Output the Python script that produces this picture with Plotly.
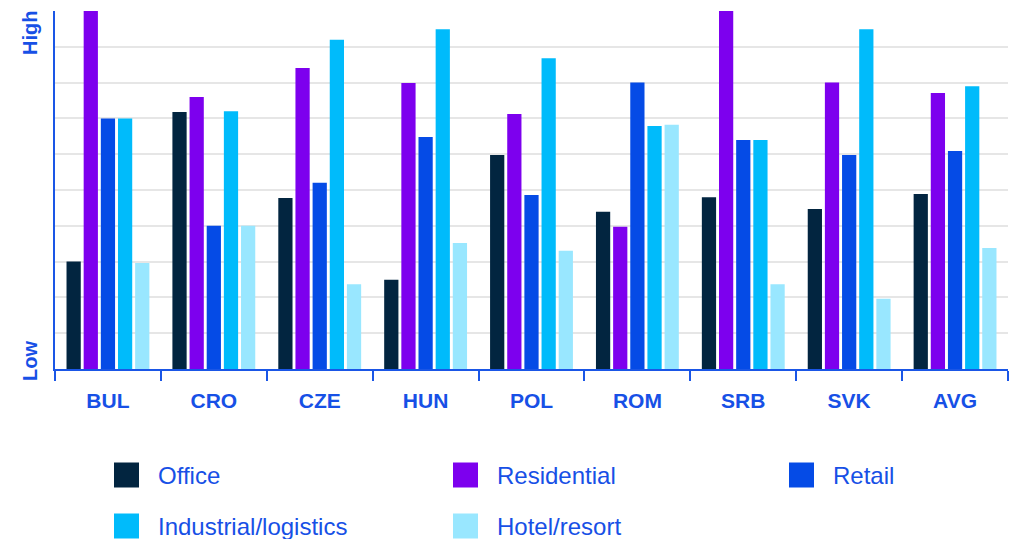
import plotly.graph_objects as go

# Market sentiment by country and property segment (Low -> High scale)
countries = ["BUL", "CRO", "CZE", "HUN", "POL", "ROM", "SRB", "SVK", "AVG"]
segments = ["Office", "Residential", "Retail", "Industrial/logistics", "Hotel/resort"]

office = [3.0, 7.18, 4.78, 2.49, 5.98, 4.39, 4.8, 4.47, 4.89]
residential = [10.0, 7.6, 8.41, 7.99, 7.12, 3.97, 10.0, 8.0, 7.71]
retail = [7.0, 4.0, 5.2, 6.48, 4.86, 8.0, 6.4, 5.98, 6.09]
industrial = [7.0, 7.2, 9.2, 9.49, 8.68, 6.79, 6.4, 9.49, 7.9]
hotel = [2.96, 4.0, 2.37, 3.52, 3.3, 6.82, 2.37, 1.96, 3.38]

series = [office, residential, retail, industrial, hotel]
colors = ["#022540", "#7d00ee", "#054be6", "#00bbfb", "#99e7ff"]

TEXT_BLUE = "#1750e6"
FONT = "Liberation Sans, Arial, sans-serif"

W, H = 1016, 539
ML, MR, MT, MB = 55, 8, 11, 170
PW, PH = W - ML - MR, H - MT - MB


def paper(x, y):
    """Pixel position (from top-left) to paper coordinates."""
    return (x - ML) / PW, (H - MB - y) / PH


fig = go.Figure()
for name, vals, col in zip(segments, series, colors):
    fig.add_trace(go.Bar(x=countries, y=vals, name=name, marker_color=col,
                         marker_line_width=0, showlegend=False))

# Legend drawn as swatches + labels in a 3-column grid
legend_cols = [(114, 158), (453, 497), (789, 833)]
legend_rows = [475, 526]
shapes = []
annotations = []
for i, (name, col) in enumerate(zip(segments, colors)):
    sx, tx = legend_cols[i % 3]
    cy = legend_rows[i // 3]
    x0, y0 = paper(sx, cy - 12.5)
    x1, y1 = paper(sx + 25, cy + 12.5)
    shapes.append(dict(type="rect", xref="paper", yref="paper", x0=x0, x1=x1,
                       y0=y1, y1=y0, fillcolor=col, line_width=0))
    ax, ay = paper(tx - 2, cy)
    annotations.append(dict(text=name, xref="paper", yref="paper", x=ax, y=ay,
                            xanchor="left", yanchor="middle", showarrow=False,
                            font=dict(family=FONT, size=24, color=TEXT_BLUE)))

# Axis end labels
for label, py in [("High", 33), ("Low", 361)]:
    ax, ay = paper(30, py)
    annotations.append(dict(text="<b>%s</b>" % label, xref="paper", yref="paper",
                            x=ax, y=ay, xanchor="center", yanchor="middle",
                            textangle=-90, showarrow=False,
                            font=dict(family=FONT, size=20, color=TEXT_BLUE)))

fig.update_layout(
    width=W, height=H,
    margin=dict(l=ML, r=MR, t=MT, b=MB),
    paper_bgcolor="white", plot_bgcolor="white",
    barmode="group", bargap=0.19, bargroupgap=0.17,
    shapes=shapes, annotations=annotations,
    font=dict(family=FONT, color=TEXT_BLUE),
)
fig.update_xaxes(
    type="category", showline=True, linecolor="#1a56e6", linewidth=1.5,
    ticks="outside", tickson="boundaries", ticklen=10, tickcolor="#1a56e6",
    tickwidth=1.5, showgrid=False, ticklabelstandoff=12,
    tickfont=dict(family=FONT, size=21, color=TEXT_BLUE, weight="bold"),
)
fig.update_yaxes(
    range=[0, 10], dtick=1, showticklabels=False, showline=True,
    linecolor="#1a56e6", linewidth=1.5, gridcolor="#e6e6e6", gridwidth=1.5,
    zeroline=False,
)

fig.write_html("out.html")
